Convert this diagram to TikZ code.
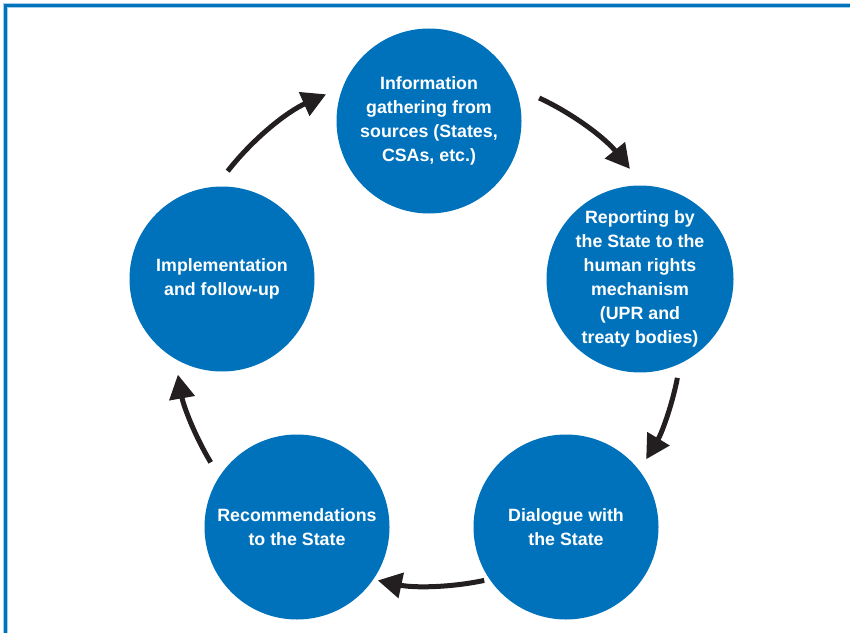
\documentclass[tikz,border=0pt]{standalone}
\usepackage{fontspec}
\setmainfont{Liberation Sans}
\usetikzlibrary{arrows.meta}
\definecolor{cycleblue}{HTML}{0072BC}
\definecolor{cycleink}{HTML}{231F20}
\tikzset{
  stage/.style={circle, fill=cycleblue, minimum size=185pt, inner sep=0pt, text=white,
    font=\fontsize{17.8}{24}\selectfont\bfseries, align=center},
  turn/.style={line width=5pt, color=cycleink, -{Triangle[length=24pt,width=25pt]}}
}

\begin{document}
\begin{tikzpicture}[x=1pt,y=1pt]
		%%%%% START %%%%%
		\useasboundingbox (0,0) rectangle (850,633);
		
		% frame
		\draw[line width=4.5pt, color=cycleblue!35] (5.5,0) -- (5.5,627.5) -- (850,627.5);
		\draw[line width=2.6pt, color=cycleblue] (5.5,0) -- (5.5,627.5) -- (850,627.5);
		
		% stages
		\node[stage] (info) at (429,512) {Information\\gathering from\\sources (States,\\CSAs, etc.)};
		\node[stage] (report) at (640,354) {Reporting by\\the State to the\\human rights\\mechanism\\(UPR and\\treaty bodies)};
		\node[stage] (dialogue) at (566,106) {Dialogue with\\the State};
		\node[stage] (recomm) at (297,106) {Recommendations\\to the State};
		\node[stage] (implement) at (222,354) {Implementation\\and follow-up};
		
		% arrows round the cycle
		\coordinate (hub) at (431,303);
		\draw[turn] ([shift={(65:256)}]hub) arc[start angle=65, end angle=39, radius=256];
		\draw[turn] ([shift={(-11:251)}]hub) arc[start angle=-11, end angle=-31, radius=251];
		\draw[turn] ([shift={(-78:256)}]hub) arc[start angle=-78, end angle=-102, radius=256];
		\draw[turn] ([shift={(211:257)}]hub) arc[start angle=211, end angle=190, radius=257];
		\draw[turn] ([shift={(142:258)}]hub) arc[start angle=142, end angle=114, radius=258];
		
		%%%%% END %%%%%
\end{tikzpicture}
\end{document}
